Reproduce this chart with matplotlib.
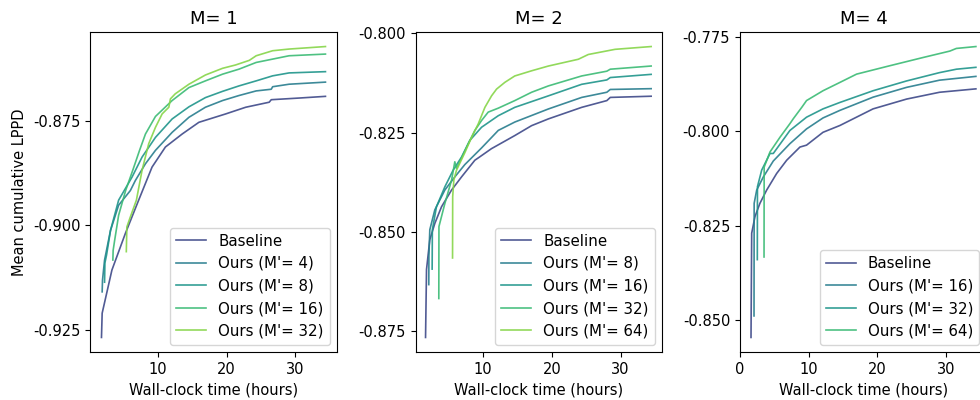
import matplotlib
matplotlib.use("Agg")
import matplotlib.pyplot as plt
from matplotlib.ticker import MultipleLocator, FormatStrFormatter

# --- data (hours, mean cumulative LPPD) ---
titles = ["M= 1", "M= 2", "M= 4"]
labels_m1 = ["Baseline", "Ours (M'= 4)", "Ours (M'= 8)", "Ours (M'= 16)", "Ours (M'= 32)"]
labels_m2 = ["Baseline", "Ours (M'= 8)", "Ours (M'= 16)", "Ours (M'= 32)", "Ours (M'= 64)"]
labels_m4 = ["Baseline", "Ours (M'= 16)", "Ours (M'= 32)", "Ours (M'= 64)"]

# M = 1
m1_base_x = [1.75, 1.85, 3.27, 5.22, 7.17, 9.12, 11.07, 13.51, 15.95, 19.85, 22.78, 26.2, 26.5, 30.6, 34.4]
m1_base_y = [-0.9268, -0.9210, -0.9107, -0.9020, -0.8940, -0.8861, -0.8813, -0.8782, -0.8754, -0.8734,
             -0.8718, -0.8706, -0.8700, -0.8696, -0.8692]
m1_4_x = [1.85, 1.9, 2.2, 3.07, 4.25, 5.96, 6.69, 8.16, 9.62, 12.05, 14.5, 16.9, 19.4, 21.8, 24.3, 26.5, 26.7, 29.1, 34.4]
m1_4_y = [-0.9159, -0.9131, -0.9083, -0.9012, -0.8952, -0.8917, -0.8893, -0.8853, -0.8821, -0.8778, -0.8742,
          -0.8718, -0.8702, -0.8690, -0.8679, -0.8675, -0.8669, -0.8663, -0.8658]
m1_8_x = [2.2, 2.25, 2.49, 3.07, 4.25, 6.2, 7.67, 9.62, 12.05, 14.5, 16.9, 19.4, 21.8, 24.3, 26.7, 29.1, 34.4]
m1_8_y = [-0.9136, -0.9090, -0.9071, -0.9012, -0.8940, -0.8885, -0.8837, -0.8790, -0.8746, -0.8717, -0.8695,
          -0.8680, -0.8667, -0.8655, -0.8643, -0.8636, -0.8633]
m1_16_x = [3.41, 3.45, 3.67, 4.25, 5.27, 6.3, 7.3, 8.16, 9.62, 12.05, 14.5, 16.9, 19.4, 21.8, 24.3, 26.7, 29.1, 34.4]
m1_16_y = [-0.9083, -0.9060, -0.9036, -0.8976, -0.8917, -0.8869, -0.8821, -0.8782, -0.8740, -0.8702, -0.8671,
           -0.8655, -0.8639, -0.8627, -0.8611, -0.8603, -0.8595, -0.8591]
m1_32_x = [5.37, 5.45, 5.96, 6.84, 7.66, 8.39, 8.64, 9.62, 10.59, 11.57, 11.8, 12.5, 14.5, 16.9, 19.4, 21.3,
           23.3, 24.3, 26.7, 29.1, 34.4]
m1_32_y = [-0.9063, -0.9004, -0.8980, -0.8940, -0.8869, -0.8821, -0.8805, -0.8766, -0.8734, -0.8718, -0.8698,
           -0.8686, -0.8663, -0.8641, -0.8625, -0.8617, -0.8606, -0.8595, -0.8583, -0.8579, -0.8573]

# M = 2
m2_base_x = [1.61, 1.75, 2.23, 2.96, 3.94, 5.4, 6.85, 8.79, 9.3, 11.2, 14.6, 17.05, 19.5, 24.34, 28.0, 28.5, 34.45]
m2_base_y = [-0.8765, -0.8594, -0.8519, -0.8478, -0.8436, -0.8394, -0.8361, -0.8319, -0.8313, -0.8290, -0.8257,
             -0.8232, -0.8215, -0.8186, -0.8169, -0.8161, -0.8158]
m2_8_x = [2.08, 2.1, 2.23, 2.96, 4.42, 5.87, 7.33, 9.77, 12.2, 14.6, 19.5, 24.34, 28.0, 28.5, 34.45]
m2_8_y = [-0.8632, -0.8560, -0.8494, -0.8444, -0.8394, -0.8361, -0.8330, -0.8288, -0.8244, -0.8223, -0.8190,
          -0.8161, -0.8148, -0.8141, -0.8139]
m2_16_x = [2.57, 2.6, 3.2, 4.42, 5.63, 6.85, 8.06, 9.77, 12.2, 14.6, 19.5, 24.34, 28.0, 28.5, 34.45]
m2_16_y = [-0.8593, -0.8494, -0.8436, -0.8386, -0.8344, -0.8311, -0.8269, -0.8236, -0.8207, -0.8186, -0.8157,
           -0.8128, -0.8117, -0.8111, -0.8103]
m2_32_x = [3.54, 3.56, 4.42, 5.4, 5.87, 6.12, 6.8, 7.81, 8.79, 9.77, 10.73, 12.2, 14.6, 17.05, 19.5, 24.34,
           28.0, 28.5, 34.45]
m2_32_y = [-0.8667, -0.8486, -0.8428, -0.8369, -0.8323, -0.8340, -0.8315, -0.8278, -0.8244, -0.8219, -0.8198,
           -0.8188, -0.8169, -0.8148, -0.8132, -0.8107, -0.8095, -0.8090, -0.8082]
m2_64_x = [5.54, 5.56, 5.73, 6.12, 7.33, 8.3, 9.27, 10.25, 11.22, 11.95, 13.16, 14.6, 17.05, 19.5, 23.85,
           25.3, 29.2, 34.45]
m2_64_y = [-0.8565, -0.8411, -0.8369, -0.8344, -0.8300, -0.8262, -0.8228, -0.8186, -0.8157, -0.8140, -0.8123,
           -0.8107, -0.8094, -0.8082, -0.8065, -0.8053, -0.8040, -0.8033]

# M = 4
m4_base_x = [1.6, 1.7, 2.18, 2.9, 3.88, 5.34, 6.8, 8.74, 9.7, 12.1, 14.56, 19.4, 24.3, 29.1, 34.4]
m4_base_y = [-0.8546, -0.8270, -0.8226, -0.8191, -0.8156, -0.8112, -0.8077, -0.8042, -0.8037, -0.8003, -0.7985,
             -0.7941, -0.7915, -0.7897, -0.7888]
m4_16_x = [2.04, 2.06, 2.43, 3.4, 4.85, 7.28, 9.7, 12.1, 14.56, 19.4, 24.3, 29.1, 34.4]
m4_16_y = [-0.8489, -0.8191, -0.8156, -0.8121, -0.8079, -0.8033, -0.7994, -0.7965, -0.7945, -0.7910, -0.7884,
           -0.7865, -0.7855]
m4_32_x = [2.52, 2.54, 3.16, 4.37, 4.85, 7.28, 9.7, 12.1, 14.56, 19.4, 24.3, 29.1, 31.55, 34.4]
m4_32_y = [-0.8340, -0.8147, -0.8103, -0.8059, -0.8059, -0.7998, -0.7963, -0.7941, -0.7924, -0.7893, -0.7867,
           -0.7845, -0.7836, -0.7831]
m4_64_x = [3.5, 3.52, 4.37, 5.83, 7.28, 7.77, 9.0, 9.7, 12.1, 14.56, 17.0, 21.8, 26.7, 30.6, 31.55, 34.4]
m4_64_y = [-0.8333, -0.8095, -0.8055, -0.8016, -0.7980, -0.7967, -0.7937, -0.7919, -0.7893, -0.7871, -0.7849,
           -0.7827, -0.7805, -0.7788, -0.7781, -0.7776]

panels = [
    (titles[0], labels_m1, [(m1_base_x, m1_base_y), (m1_4_x, m1_4_y), (m1_8_x, m1_8_y),
                            (m1_16_x, m1_16_y), (m1_32_x, m1_32_y)]),
    (titles[1], labels_m2, [(m2_base_x, m2_base_y), (m2_8_x, m2_8_y), (m2_16_x, m2_16_y),
                            (m2_32_x, m2_32_y), (m2_64_x, m2_64_y)]),
    (titles[2], labels_m4, [(m4_base_x, m4_base_y), (m4_16_x, m4_16_y), (m4_32_x, m4_32_y),
                            (m4_64_x, m4_64_y)]),
]

colors = plt.cm.viridis([0.22, 0.42, 0.52, 0.68, 0.82])

fig = plt.figure(figsize=(9.8, 4.0), dpi=100)
lefts = [0.092, 0.424, 0.755]
xlims = [(0.1, 36.1), (0.15, 36.1), (-0.02, 36.0)]
for i, (title, labels, series) in enumerate(panels):
    ax = fig.add_axes([lefts[i], 0.12, 0.252, 0.80])
    for j, ((xs, ys), lab) in enumerate(zip(series, labels)):
        ax.plot(xs, ys, color=colors[j], lw=1.2, alpha=0.9, label=lab)
    ax.set_xlim(*xlims[i])
    ax.set_title(title, fontsize=13)
    ax.set_xlabel("Wall-clock time (hours)", fontsize=10.5)
    if i == 0:
        ax.set_ylabel("Mean cumulative LPPD", fontsize=10.5)
    ax.xaxis.set_major_locator(MultipleLocator(10))
    ax.yaxis.set_major_locator(MultipleLocator(0.025))
    ax.yaxis.set_major_formatter(FormatStrFormatter("%.3f"))
    ax.tick_params(labelsize=10.5)
    ax.legend(loc="lower right", fontsize=10.8)

fig.savefig("out.png", dpi=100)
